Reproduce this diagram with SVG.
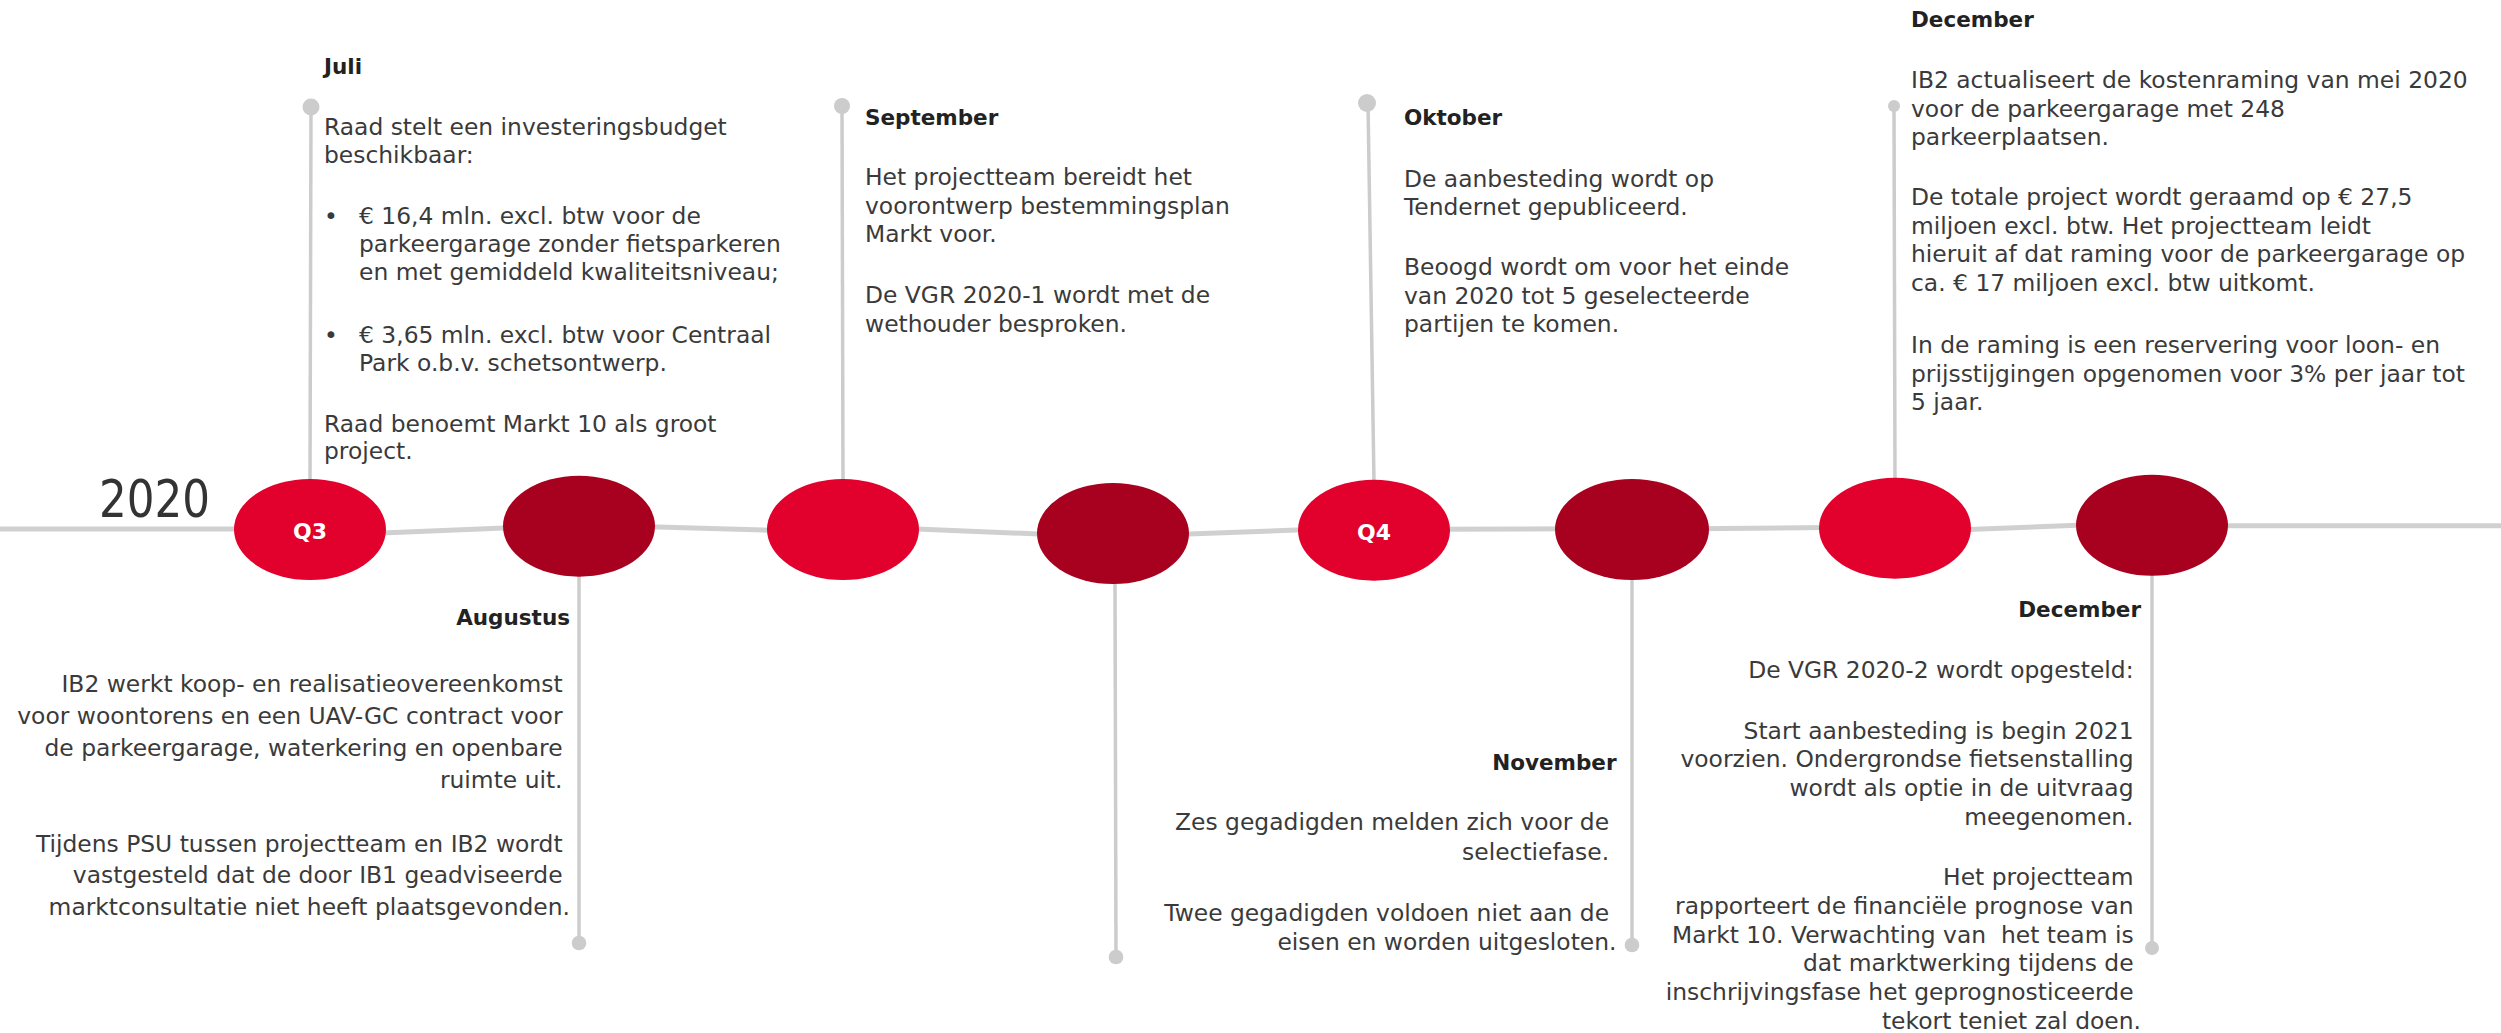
<svg xmlns="http://www.w3.org/2000/svg" width="2501" height="1033" viewBox="0 0 2501 1033">
  <style>
    .hd { font-family: "DejaVu Sans", Verdana, sans-serif; font-weight: bold; font-size: 21.5px; fill: #222222; }
    .tx { font-family: "DejaVu Sans", Verdana, sans-serif; font-size: 23.4px; fill: #3a3a3a; }
    .end { text-anchor: end; }
    .year { font-family: "DejaVu Sans Condensed", "DejaVu Sans", sans-serif; font-size: 52px; fill: #333333; }
    .q { font-family: "DejaVu Sans", sans-serif; font-weight: bold; font-size: 22px; fill: #ffffff; text-anchor: middle; }
    .axis { stroke: #d0d0d0; stroke-width: 5; fill: none; }
    .stem { stroke: #cccccc; stroke-width: 3.5; fill: none; }
    .dot { fill: #cccccc; }
    .bright { fill: #E2002C; }
    .dark { fill: #A8001F; }
  </style>

  <rect width="2501" height="1033" fill="#ffffff"/>

  <!-- connectors: timeline axis and stems to the event texts -->
  <g id="connectors">
    <line class="axis" x1="0" y1="529" x2="250" y2="529"/>
    <line class="axis" x1="370" y1="533.5" x2="515" y2="527.5"/>
    <line class="axis" x1="640" y1="526.5" x2="780" y2="530.5"/>
    <line class="axis" x1="905" y1="528.5" x2="1050" y2="534.5"/>
    <line class="axis" x1="1175" y1="534.5" x2="1310" y2="529.5"/>
    <line class="axis" x1="1435" y1="529.3" x2="1570" y2="528.7"/>
    <line class="axis" x1="1695" y1="528.7" x2="1830" y2="527.6"/>
    <line class="axis" x1="1955" y1="530" x2="2090" y2="524.8"/>
    <line class="axis" x1="2215" y1="525.7" x2="2501" y2="525.7"/>

    <!-- stems above the axis -->
    <line class="stem" x1="311" y1="107" x2="310" y2="482"/>
    <circle class="dot" cx="311" cy="107" r="8.5"/>
    <line class="stem" x1="842" y1="106" x2="843" y2="482"/>
    <circle class="dot" cx="842" cy="106" r="8"/>
    <line class="stem" x1="1368" y1="103" x2="1374" y2="482"/>
    <circle class="dot" cx="1367" cy="103" r="9"/>
    <line class="stem" x1="1894" y1="106" x2="1895" y2="480"/>
    <circle class="dot" cx="1894" cy="106" r="6"/>

    <!-- stems below the axis -->
    <line class="stem" x1="579" y1="575" x2="579" y2="943"/>
    <circle class="dot" cx="579" cy="943" r="7.3"/>
    <line class="stem" x1="1115" y1="582" x2="1116" y2="957"/>
    <circle class="dot" cx="1116" cy="957" r="7.3"/>
    <line class="stem" x1="1632" y1="578" x2="1632" y2="945"/>
    <circle class="dot" cx="1632" cy="945" r="7.3"/>
    <line class="stem" x1="2152" y1="574" x2="2152" y2="948"/>
    <circle class="dot" cx="2152" cy="948" r="7"/>
  </g>

  <text id="year" class="year" x="99" y="517" textLength="111" lengthAdjust="spacingAndGlyphs">2020</text>

  <!-- milestone ellipses -->
  <g id="node-q3"><ellipse class="bright" cx="310" cy="529.5" rx="76" ry="50.5"/><text class="q" x="310" y="539">Q3</text></g>
  <g id="node-augustus"><ellipse class="dark" cx="579" cy="526.2" rx="76" ry="50.5"/></g>
  <g id="node-september"><ellipse class="bright" cx="843" cy="529.5" rx="76" ry="50.5"/></g>
  <g id="node-oktober-mid"><ellipse class="dark" cx="1113" cy="533.5" rx="76" ry="50.5"/></g>
  <g id="node-q4"><ellipse class="bright" cx="1374" cy="530.2" rx="76" ry="50.5"/><text class="q" x="1374" y="540">Q4</text></g>
  <g id="node-november"><ellipse class="dark" cx="1632" cy="529.5" rx="77" ry="50.5"/></g>
  <g id="node-december-top"><ellipse class="bright" cx="1895" cy="528.2" rx="76" ry="50.5"/></g>
  <g id="node-december-bottom"><ellipse class="dark" cx="2152" cy="525.3" rx="76" ry="50.5"/></g>

  <!-- event texts above the axis -->
  <g id="event-juli">
    <text class="hd" x="324" y="74">Juli</text>
    <text class="tx">
      <tspan x="324" y="135">Raad stelt een investeringsbudget</tspan>
      <tspan x="324" y="163">beschikbaar:</tspan>
    </text>
    <text class="tx"><tspan x="324" y="224">•</tspan><tspan x="324" y="343">•</tspan></text>
    <text class="tx">
      <tspan x="359" y="224">€ 16,4 mln. excl. btw voor de</tspan>
      <tspan x="359" y="252">parkeergarage zonder fietsparkeren</tspan>
      <tspan x="359" y="280">en met gemiddeld kwaliteitsniveau;</tspan>
      <tspan x="359" y="343">€ 3,65 mln. excl. btw voor Centraal</tspan>
      <tspan x="359" y="371">Park o.b.v. schetsontwerp.</tspan>
    </text>
    <text class="tx">
      <tspan x="324" y="431.5">Raad benoemt Markt 10 als groot</tspan>
      <tspan x="324" y="459">project.</tspan>
    </text>
  </g>

  <g id="event-september">
    <text class="hd" x="865" y="125">September</text>
    <text class="tx">
      <tspan x="865" y="185">Het projectteam bereidt het</tspan>
      <tspan x="865" y="213.5">voorontwerp bestemmingsplan</tspan>
      <tspan x="865" y="242">Markt voor.</tspan>
      <tspan x="865" y="303">De VGR 2020-1 wordt met de</tspan>
      <tspan x="865" y="331.5">wethouder besproken.</tspan>
    </text>
  </g>

  <g id="event-oktober">
    <text class="hd" x="1404" y="125">Oktober</text>
    <text class="tx">
      <tspan x="1404" y="186.5">De aanbesteding wordt op</tspan>
      <tspan x="1404" y="215">Tendernet gepubliceerd.</tspan>
      <tspan x="1404" y="275">Beoogd wordt om voor het einde</tspan>
      <tspan x="1404" y="303.5">van 2020 tot 5 geselecteerde</tspan>
      <tspan x="1404" y="332">partijen te komen.</tspan>
    </text>
  </g>

  <g id="event-december-raming">
    <text class="hd" x="1911" y="27">December</text>
    <text class="tx">
      <tspan x="1911" y="88">IB2 actualiseert de kostenraming van mei 2020</tspan>
      <tspan x="1911" y="116.5">voor de parkeergarage met 248</tspan>
      <tspan x="1911" y="145">parkeerplaatsen.</tspan>
      <tspan x="1911" y="205">De totale project wordt geraamd op € 27,5</tspan>
      <tspan x="1911" y="233.5">miljoen excl. btw. Het projectteam leidt</tspan>
      <tspan x="1911" y="262">hieruit af dat raming voor de parkeergarage op</tspan>
      <tspan x="1911" y="290.5">ca. € 17 miljoen excl. btw uitkomt.</tspan>
      <tspan x="1911" y="353">In de raming is een reservering voor loon- en</tspan>
      <tspan x="1911" y="381.5">prijsstijgingen opgenomen voor 3% per jaar tot</tspan>
      <tspan x="1911" y="410">5 jaar.</tspan>
    </text>
  </g>

  <!-- event texts below the axis -->
  <g id="event-augustus">
    <text class="hd end" x="570" y="625">Augustus</text>
    <text class="tx end">
      <tspan x="570" y="692">IB2 werkt koop- en realisatieovereenkomst</tspan>
      <tspan x="570" y="724">voor woontorens en een UAV-GC contract voor</tspan>
      <tspan x="570" y="756">de parkeergarage, waterkering en openbare</tspan>
      <tspan x="570" y="788">ruimte uit.</tspan>
      <tspan x="570" y="851.5">Tijdens PSU tussen projectteam en IB2 wordt</tspan>
      <tspan x="570" y="883">vastgesteld dat de door IB1 geadviseerde</tspan>
      <tspan x="570" y="915">marktconsultatie niet heeft plaatsgevonden.</tspan>
    </text>
  </g>

  <g id="event-november">
    <text class="hd end" x="1616.5" y="770">November</text>
    <text class="tx end">
      <tspan x="1616.5" y="830">Zes gegadigden melden zich voor de</tspan>
      <tspan x="1616.5" y="859.5">selectiefase.</tspan>
      <tspan x="1616.5" y="920.5">Twee gegadigden voldoen niet aan de</tspan>
      <tspan x="1616.5" y="949.5">eisen en worden uitgesloten.</tspan>
    </text>
  </g>

  <g id="event-december-vgr">
    <text class="hd end" x="2141" y="617">December</text>
    <text class="tx end">
      <tspan x="2141" y="678">De VGR 2020-2 wordt opgesteld:</tspan>
      <tspan x="2141" y="738.5">Start aanbesteding is begin 2021</tspan>
      <tspan x="2141" y="767">voorzien. Ondergrondse fietsenstalling</tspan>
      <tspan x="2141" y="796">wordt als optie in de uitvraag</tspan>
      <tspan x="2141" y="825">meegenomen.</tspan>
      <tspan x="2141" y="885">Het projectteam</tspan>
      <tspan x="2141" y="914">rapporteert de financiële prognose van</tspan>
      <tspan x="2141" y="942.5">Markt 10. Verwachting van &#160;het team is</tspan>
      <tspan x="2141" y="971">dat marktwerking tijdens de</tspan>
      <tspan x="2141" y="1000">inschrijvingsfase het geprognosticeerde</tspan>
      <tspan x="2141" y="1028.5">tekort teniet zal doen.</tspan>
    </text>
  </g>
</svg>
